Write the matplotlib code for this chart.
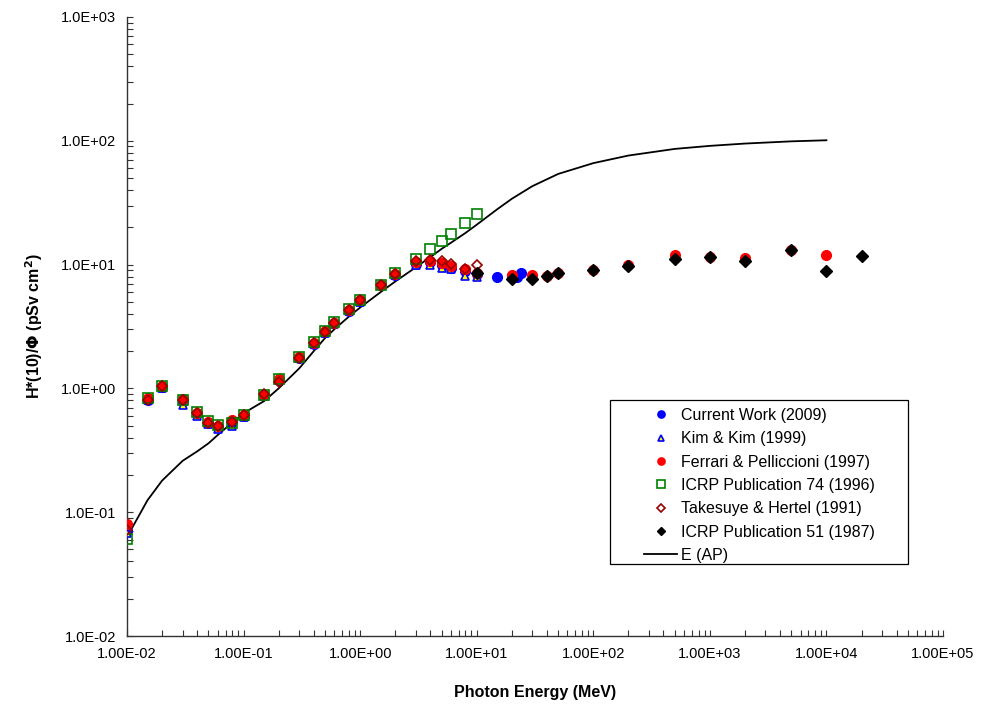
import matplotlib
matplotlib.use("Agg")
import matplotlib.pyplot as plt
from matplotlib.patches import Rectangle
from matplotlib.ticker import LogLocator, FuncFormatter, NullFormatter

plt.rcParams["font.family"] = ["Liberation Sans", "DejaVu Sans"]

# photon energies (MeV) shared by the low-energy data sets
e_low = [0.01, 0.015, 0.02, 0.03, 0.04, 0.05, 0.06, 0.08, 0.1, 0.15, 0.2, 0.3,
         0.4, 0.5, 0.6, 0.8, 1, 1.5, 2, 3, 4, 5, 6, 8, 10]

# Current Work (2009)
cw_e = e_low + [15, 20, 22, 24]
cw_v = [0.070, 0.81, 1.02, 0.79, 0.62, 0.53, 0.49, 0.54, 0.60, 0.88, 1.17, 1.76,
        2.30, 2.86, 3.35, 4.25, 5.05, 6.8, 8.3, 10.2, 10.4, 10.0, 9.4, 8.8, 8.4,
        8.0, 8.1, 8.0, 8.5]

# Kim & Kim (1999)
kk_v = [0.068, 0.80, 1.01, 0.73, 0.60, 0.52, 0.47, 0.50, 0.59, 0.87, 1.17, 1.75,
        2.28, 2.80, 3.30, 4.20, 5.00, 6.8, 8.3, 9.9, 10.0, 9.4, 9.2, 8.1, 7.9]

# Ferrari & Pelliccioni (1997)
fp_e = e_low + [20, 30, 40, 50, 100, 200, 500, 1000, 2000, 5000, 10000]
fp_v = [0.081, 0.83, 1.05, 0.82, 0.63, 0.54, 0.50, 0.56, 0.61, 0.89, 1.19, 1.79,
        2.34, 2.90, 3.40, 4.32, 5.15, 6.9, 8.4, 10.4, 10.7, 10.3, 9.7, 9.2, 8.6,
        8.2, 8.2, 8.1, 8.5, 9.0, 10.0, 12.0, 11.6, 11.4, 13.1, 12.0]

# ICRP Publication 74 (1996)
i74_v = [0.061, 0.83, 1.05, 0.81, 0.64, 0.55, 0.51, 0.53, 0.61, 0.89, 1.20, 1.80,
         2.38, 2.93, 3.44, 4.38, 5.20, 6.90, 8.60, 11.1, 13.4, 15.5, 17.6, 21.6, 25.6]

# Takesuye & Hertel (1991)
th_v = [0.072, 0.80, 1.04, 0.80, 0.63, 0.53, 0.50, 0.54, 0.61, 0.90, 1.12, 1.77,
        2.34, 2.88, 3.40, 4.30, 5.15, 6.9, 8.4, 10.6, 10.9, 10.6, 10.2, 9.3, 9.9]

# ICRP Publication 51 (1987)
i51_e = [10, 20, 30, 40, 50, 100, 200, 500, 1000, 2000, 5000, 10000, 20000]
i51_v = [8.5, 7.7, 7.7, 8.1, 8.5, 9.0, 9.8, 11.2, 11.6, 10.6, 13.1, 8.8, 11.7]

# E (AP)
eap_e = [0.01, 0.015, 0.02, 0.03, 0.04, 0.05, 0.06, 0.08, 0.1, 0.15, 0.2, 0.3,
         0.4, 0.5, 0.6, 0.8, 1, 1.5, 2, 3, 4, 5, 6, 8, 10, 15, 20, 30, 50,
         100, 200, 500, 1000, 2000, 5000, 10000]
eap_v = [0.063, 0.125, 0.18, 0.26, 0.31, 0.36, 0.42, 0.53, 0.63, 0.79, 1.0, 1.45,
         2.0, 2.55, 3.0, 3.8, 4.5, 6.0, 7.3, 9.5, 11.5, 13.4, 15.0, 18.0, 21.0,
         28, 34, 43, 54, 66, 76, 86, 91, 95, 99, 101]

W, H = 981, 707
fig = plt.figure(figsize=(W/100, H/100), dpi=100)
ax = fig.add_axes([127/W, 1-636/H, 816/W, 619/H])

ax.plot(cw_e, cw_v, "o", ms=7, color="#0000ff", mec="#0000ff", ls="none",
        label="Current Work (2009)", zorder=3)
ax.plot(e_low, kk_v, "^", ms=6, mfc="#ffff00", mec="#0000ff", mew=1.2, ls="none",
        label="Kim & Kim (1999)", zorder=4)
ax.plot(fp_e, fp_v, "o", ms=7, color="#ff0000", ls="none",
        label="Ferrari & Pelliccioni (1997)", zorder=5)
ax.plot(e_low, i74_v, "s", ms=7, mfc="none", mec="#008000", mew=1.2, ls="none",
        label="ICRP Publication 74 (1996)", zorder=6)
ax.plot(e_low, th_v, "D", ms=5, mfc="none", mec="#990000", mew=1.2, ls="none",
        label="Takesuye & Hertel (1991)", zorder=7)
ax.plot(i51_e, i51_v, "D", ms=6, color="black", ls="none",
        label="ICRP Publication 51 (1987)", zorder=8)
ax.plot(eap_e, eap_v, "-", color="black", lw=1.3, label="E (AP)", zorder=2)

ax.set_xscale("log")
ax.set_yscale("log")
ax.set_xlim(1e-2, 1e5)
ax.set_ylim(1e-2, 1e3)

ax.xaxis.set_major_locator(LogLocator(base=10, numticks=20))
ax.yaxis.set_major_locator(LogLocator(base=10, numticks=20))
ax.xaxis.set_minor_locator(LogLocator(base=10, subs=range(2, 10), numticks=100))
ax.yaxis.set_minor_locator(LogLocator(base=10, subs=range(2, 10), numticks=100))
ax.xaxis.set_major_formatter(FuncFormatter(lambda v, p: f"{v:.2E}"))
ax.yaxis.set_major_formatter(FuncFormatter(lambda v, p: f"{v:.1E}"))
ax.xaxis.set_minor_formatter(NullFormatter())
ax.yaxis.set_minor_formatter(NullFormatter())
ax.tick_params(which="both", direction="in", length=4, width=0.8, colors="#333333",
               labelsize=10.5, labelcolor="black", pad=8)

for s in ["top", "right"]:
    ax.spines[s].set_visible(False)
for s in ["left", "bottom"]:
    ax.spines[s].set_color("#333333")
    ax.spines[s].set_linewidth(1.0)

ax.set_xlabel("Photon Energy (MeV)", fontsize=11.5, fontweight="bold", labelpad=17)
ax.set_ylabel(r"H*(10)/$\mathbf{\Phi}$ (pSv cm$^\mathbf{2}$)", fontsize=11.5,
              fontweight="bold", labelpad=11)

# legend frame drawn separately, Excel style with wide margins
fig.patches.append(Rectangle((610/W, 1-564/H), 298/W, 164/H, transform=fig.transFigure,
                             facecolor="white", edgecolor="black", lw=0.9, zorder=1))
handles, labels = ax.get_legend_handles_labels()
leg = fig.legend(handles, labels, loc="upper left", bbox_to_anchor=(644/W, 1-408/H),
                 bbox_transform=fig.transFigure, fontsize=11.5, frameon=False,
                 borderpad=0, borderaxespad=0, labelspacing=0.52,
                 handlelength=2.07, handletextpad=0.25, markerscale=0.75)

fig.savefig("out.png", dpi=100)
